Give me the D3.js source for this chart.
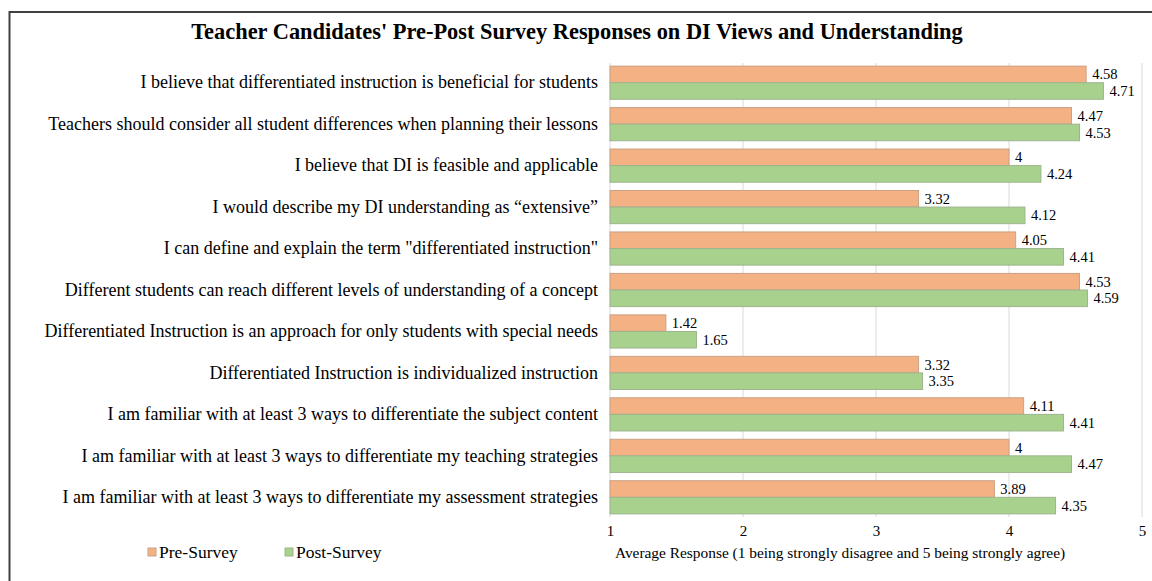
<!DOCTYPE html>
<html>
<head>
<meta charset="utf-8">
<script src="https://cdn.jsdelivr.net/npm/d3@7"></script>
<style>
  html, body { margin: 0; padding: 0; background: #fff; }
  svg { display: block; font-family: "Liberation Serif", "Times New Roman", serif; }
</style>
</head>
<body>
<svg id="chart" width="1152" height="581"></svg>
<script>
// Survey statements (top to bottom)
const categories = [
  "I believe that differentiated instruction is beneficial for students",
  "Teachers should consider all student differences when planning their lessons",
  "I believe that DI is feasible and applicable",
  "I would describe my DI understanding as \u201cextensive\u201d",
  "I can define and explain the term \"differentiated instruction\"",
  "Different students can reach different levels of understanding of a concept",
  "Differentiated Instruction is an approach for only students with special needs",
  "Differentiated Instruction is individualized instruction",
  "I am familiar with at least 3 ways to differentiate the subject content",
  "I am familiar with at least 3 ways to differentiate my teaching strategies",
  "I am familiar with at least 3 ways to differentiate my assessment strategies"
];
const preSurvey  = [4.58, 4.47, 4, 3.32, 4.05, 4.53, 1.42, 3.32, 4.11, 4, 3.89];
const postSurvey = [4.71, 4.53, 4.24, 4.12, 4.41, 4.59, 1.65, 3.35, 4.41, 4.47, 4.35];
const seriesNames = ["Pre-Survey", "Post-Survey"];
const xTicks = [1, 2, 3, 4, 5];

const title = "Teacher Candidates' Pre-Post Survey Responses on DI Views and Understanding";
const axisTitle = "Average Response (1 being strongly disagree and 5 being strongly agree)";

const fills = ["#F4B183", "#A9D18E"];
const strokes = ["#c9a184", "#9cb58d"];

const svg = d3.select("#chart");

// outer frame
svg.append("rect")
  .attr("x", 9.5).attr("y", 12)
  .attr("width", 1160).attr("height", 600)
  .attr("fill", "none").attr("stroke", "#404040").attr("stroke-width", 2);

const plot = { left: 610, right: 1142, top: 63, bottom: 517 };

const x = d3.scaleLinear().domain([1, 5]).range([plot.left, plot.right]);
const y = d3.scaleBand().domain(d3.range(categories.length))
  .range([plot.top, plot.bottom]).paddingInner(0.2).paddingOuter(0.075);
const sub = d3.scaleBand().domain([0, 1]).range([0, y.bandwidth()]);

// title
svg.append("text")
  .attr("x", 577).attr("y", 39)
  .attr("text-anchor", "middle")
  .attr("font-size", 22.4).attr("font-weight", "bold").attr("fill", "#000")
  .text(title);

// vertical gridlines
svg.append("g")
  .selectAll("line").data(xTicks.slice(1)).join("line")
  .attr("x1", d => x(d)).attr("x2", d => x(d))
  .attr("y1", plot.top).attr("y2", plot.bottom)
  .attr("stroke", "#d9d9d9").attr("stroke-width", 1);

// x axis tick labels
const xAxis = d3.axisBottom(x).tickValues(xTicks).tickSize(0).tickPadding(8).tickFormat(d3.format("d"));
const gx = svg.append("g").attr("transform", `translate(0,${plot.bottom})`).call(xAxis);
gx.select(".domain").remove();
gx.selectAll("text").attr("font-size", 15).attr("fill", "#000")
  .attr("font-family", "Liberation Serif, Times New Roman, serif");

// category axis line
svg.append("line")
  .attr("x1", plot.left).attr("x2", plot.left)
  .attr("y1", plot.top).attr("y2", plot.bottom)
  .attr("stroke", "#d9d9d9").attr("stroke-width", 1);

// category labels
const yAxis = d3.axisLeft(y).tickSize(0).tickPadding(12).tickFormat(i => categories[i]);
const gy = svg.append("g").attr("transform", `translate(${plot.left},0)`).call(yAxis);
gy.select(".domain").remove();
gy.selectAll("text").attr("font-size", 18).attr("fill", "#000")
  .attr("font-family", "Liberation Serif, Times New Roman, serif");

// bars
const series = [preSurvey, postSurvey];
series.forEach((vals, s) => {
  const g = svg.append("g");
  g.selectAll("rect").data(vals).join("rect")
    .attr("x", x(1))
    .attr("y", (d, i) => y(i) + sub(s))
    .attr("width", d => x(d) - x(1))
    .attr("height", sub.bandwidth())
    .attr("fill", fills[s])
    .attr("stroke", strokes[s]).attr("stroke-width", 1);
  g.selectAll("text").data(vals).join("text")
    .attr("x", d => x(d) + 6)
    .attr("y", (d, i) => y(i) + sub(s) + sub.bandwidth() / 2)
    .attr("dy", "0.35em")
    .attr("font-size", 14.5).attr("fill", "#000")
    .text(d => d);
});

// axis title
svg.append("text")
  .attr("x", 840).attr("y", 558)
  .attr("text-anchor", "middle")
  .attr("font-size", 15.4).attr("fill", "#000")
  .text(axisTitle);

// legend
const legendX = [148, 285];
seriesNames.forEach((name, s) => {
  const lg = svg.append("g").attr("transform", `translate(${legendX[s]},552)`);
  lg.append("rect").attr("x", 0).attr("y", -4).attr("width", 8).attr("height", 8)
    .attr("fill", fills[s]).attr("stroke", strokes[s]);
  lg.append("text").attr("x", 11).attr("y", 0).attr("dy", "0.35em")
    .attr("font-size", 17.5).attr("fill", "#000").text(name);
});
</script>
</body>
</html>
